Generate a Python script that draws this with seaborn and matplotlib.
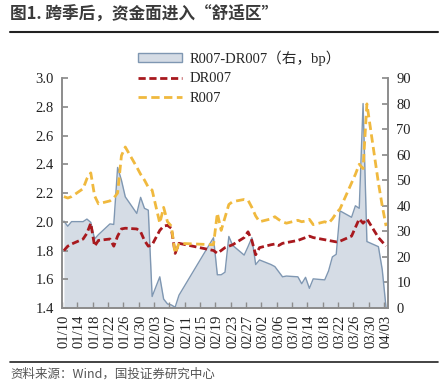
import numpy as np
import pandas as pd
import seaborn as sns
import matplotlib.pyplot as plt
from matplotlib.lines import Line2D
from matplotlib.patches import Patch

# trading days (2024), incl. make-up workdays 02/04, 02/09 and 02/18
dates = [
    "2024-01-10", "2024-01-11", "2024-01-12", "2024-01-15", "2024-01-16", "2024-01-17",
    "2024-01-18", "2024-01-19", "2024-01-22", "2024-01-23", "2024-01-24", "2024-01-25",
    "2024-01-26", "2024-01-29", "2024-01-30", "2024-01-31",
    "2024-02-01", "2024-02-02", "2024-02-04", "2024-02-05", "2024-02-06", "2024-02-07",
    "2024-02-08", "2024-02-09", "2024-02-18", "2024-02-19", "2024-02-20", "2024-02-21",
    "2024-02-22", "2024-02-23", "2024-02-26", "2024-02-27", "2024-02-28", "2024-02-29",
    "2024-03-01", "2024-03-04", "2024-03-05", "2024-03-06", "2024-03-07", "2024-03-08",
    "2024-03-11", "2024-03-12", "2024-03-13", "2024-03-14", "2024-03-15", "2024-03-18",
    "2024-03-19", "2024-03-20", "2024-03-21", "2024-03-22", "2024-03-25", "2024-03-26",
    "2024-03-27", "2024-03-28", "2024-03-29",
    "2024-04-01", "2024-04-02", "2024-04-03",
]

r007 = [
    2.175, 2.165, 2.175, 2.23, 2.30, 2.34, 2.18, 2.125, 2.145, 2.165, 2.20, 2.46,
    2.52, 2.38, 2.33, 2.29,
    2.24, 2.22, 1.99, 2.10, 2.00, 1.97, 1.78, 1.85, 1.84, 2.06, 1.94, 2.03,
    2.12, 2.14, 2.155, 2.15, 2.10, 2.04,
    2.00, 2.02, 2.035, 2.015, 2.00, 1.99, 2.01, 2.00, 2.005, 2.017, 1.98, 2.00,
    1.99, 2.02, 2.06, 2.09, 2.27, 2.33, 2.40, 2.37, 2.82,
    2.27, 2.11, 1.97,
]

dr007 = [
    1.80, 1.83, 1.845, 1.88, 1.92, 1.99, 1.83, 1.87, 1.88, 1.83, 1.90, 1.95,
    1.955, 1.95, 1.93, 1.87,
    1.83, 1.84, 1.94, 1.97, 1.975, 1.955, 1.78, 1.85, 1.80, 1.78, 1.80, 1.82,
    1.83, 1.84, 1.89, 1.93, 1.87, 1.77,
    1.82, 1.84, 1.845, 1.835, 1.85, 1.855, 1.87, 1.88, 1.89, 1.90, 1.89, 1.875,
    1.87, 1.865, 1.86, 1.865, 1.90, 1.96, 2.02, 1.99, 2.02,
    1.89, 1.86, 1.83,
]

# R007-DR007, bp (right axis)
spread = [
    34, 32, 33.8, 33.8, 34.8, 33.5, 27, 28.7, 32.9, 32.7, 55, 50,
    43.5, 37, 43.3, 39,
    38.3, 4.5, 12.2, 3.5, 1.6, 1.2, 0.3, 5, 27.5, 13, 13, 14,
    28, 24.5, 20.7, 24, 27.5, 17,
    18.8, 17, 16.2, 14.2, 12.2, 12.5, 12.2, 9.5, 12, 7.7, 11.4, 11,
    14.5, 20, 21, 38, 35.5, 40, 39, 80, 26,
    24, 15, 0,
]

start = pd.Timestamp("2024-01-10")
end = pd.Timestamp("2024-04-03")
df = pd.DataFrame({"date": pd.to_datetime(dates), "R007": r007,
                   "DR007": dr007, "spread": spread})
df["day"] = (df["date"] - start).dt.days

all_days = pd.date_range(start, end)
tick_days = np.arange(0, len(all_days), 4)
tick_labels = all_days[::4].strftime("%m/%d")

# colours
c_area = "#d5dce5"
c_edge = "#7f97b2"
c_red = "#a8191e"
c_yel = "#f0b93e"
c_axis = "#8c8c8c"

sns.set_theme(style="white")
plt.rcParams["font.family"] = ["Liberation Serif", "Noto Sans CJK SC"]

fig = plt.figure(figsize=(4.45, 3.9), dpi=100)
ax = fig.add_axes([62 / 445, 82 / 390, 326 / 445, 230 / 390])
ax2 = ax.twinx()

# spread area on the right axis
ax2.fill_between(df["day"], df["spread"], 0, color=c_area, lw=0)
sns.lineplot(x=df["day"], y=df["spread"], ax=ax2, color=c_edge, lw=1.0)

# rate lines on the left axis
sns.lineplot(x=df["day"], y=df["DR007"], ax=ax, color=c_red, lw=2.0,
             linestyle=(0, (2.6, 1.3)))
sns.lineplot(x=df["day"], y=df["R007"], ax=ax, color=c_yel, lw=2.0,
             linestyle=(0, (3, 1.6)))

ax.set_zorder(ax2.get_zorder() + 1)
ax.patch.set_visible(False)

ax.set_xlim(-0.5, len(all_days) - 0.5)
ax.set_ylim(1.4, 3.0)
ax2.set_ylim(0, 90)
ax.set_yticks(np.arange(1.4, 3.01, 0.2))
ax.set_yticklabels([f"{v:.1f}" for v in np.arange(1.4, 3.01, 0.2)])
ax2.set_yticks(np.arange(0, 91, 10))

ax.set_xticks(tick_days)
ax.set_xticklabels(tick_labels, rotation=90)
ax.set_xticks(np.arange(-0.5, len(all_days), 4), minor=True)
ax.set_xlabel("")
ax.set_ylabel("")
ax2.set_ylabel("")

ax.tick_params(axis="x", which="major", bottom=True, length=0, pad=5,
               labelsize=10.5, colors="#222222")
ax.tick_params(axis="x", which="minor", bottom=True, direction="in",
               length=4, color=c_axis)
ax.tick_params(axis="y", left=True, direction="in", length=4, color=c_axis,
               labelsize=10.5, labelcolor="#222222", pad=6)
ax2.tick_params(axis="y", right=True, direction="in", length=4, color=c_axis,
                labelsize=10.5, labelcolor="#222222", pad=6)

for a in (ax, ax2):
    a.spines["top"].set_visible(False)
    for s in ("left", "right", "bottom"):
        a.spines[s].set_color(c_axis)
        a.spines[s].set_linewidth(1.2)
    a.grid(False)

# legend
handles = [
    Patch(facecolor=c_area, edgecolor=c_edge, lw=1.0),
    Line2D([], [], color=c_red, lw=2.0, linestyle=(0, (2.6, 1.3))),
    Line2D([], [], color=c_yel, lw=2.0, linestyle=(0, (3, 1.6))),
]
labels = ["R007-DR007（右，bp）", "DR007", "R007"]
fig.legend(handles, labels, loc="upper left",
           bbox_to_anchor=(128 / 445, 1 - 40 / 390), frameon=False,
           fontsize=10.5, handlelength=3.0, handleheight=0.5,
           labelspacing=0.45, handletextpad=0.5, borderpad=0.2)

# title and source
fig.text(10 / 445, 1 - 15 / 390, "图1. 跨季后，资金面进入“舒适区”",
         family=["Noto Sans CJK SC"], fontsize=12, fontweight="bold",
         color="#3a3a3a", va="center", ha="left")
fig.add_artist(Line2D([10 / 445, 438 / 445], [1 - 32 / 390] * 2,
                      color="#222222", lw=1.5))
fig.add_artist(Line2D([10 / 445, 438 / 445], [1 - 362 / 390] * 2,
                      color="#222222", lw=1.2))
fig.text(10 / 445, 1 - 374 / 390, "资料来源：Wind，国投证券研究中心",
         family=["Noto Sans CJK SC"], fontsize=9, style="italic",
         color="#555555", va="center", ha="left")

fig.savefig("out.png", dpi=100)
plt.close(fig)
